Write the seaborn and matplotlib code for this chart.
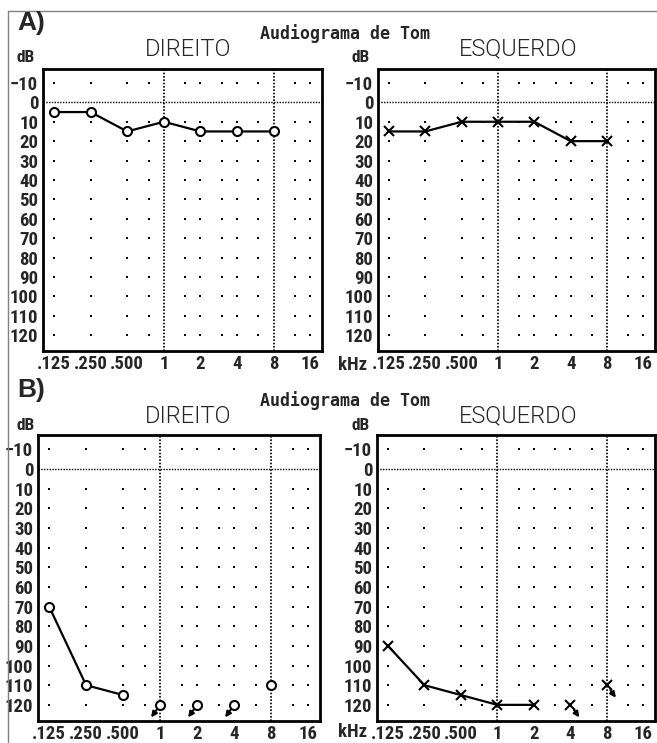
import matplotlib
matplotlib.use('Agg')
import numpy as np
import matplotlib.pyplot as plt
import seaborn as sns
from matplotlib.lines import Line2D
from matplotlib.ticker import NullLocator
from matplotlib.transforms import offset_copy

sns.set_theme(style='white')
plt.rcParams['font.family'] = ['Roboto Condensed', 'DejaVu Sans']

# eixo das frequencias (Hz)
tick_freqs = [125, 250, 500, 1000, 2000, 4000, 8000, 16000]
tick_labels = ['.125', '.250', '.500', '1', '2', '4', '8', '16']
grid_freqs = [125, 250, 500, 750, 1500, 2000, 3000, 4000, 6000, 12000, 16000]
levels = list(range(-10, 130, 10))

# A) direito (O) / esquerdo (X)
a_dir_freq = [125, 250, 500, 1000, 2000, 4000, 8000]
a_dir_db = [5, 5, 15, 10, 15, 15, 15]
a_esq_freq = [125, 250, 500, 1000, 2000, 4000, 8000]
a_esq_db = [15, 15, 10, 10, 10, 20, 20]

# B) direito
b_dir_freq = [125, 250, 500]
b_dir_db = [70, 110, 115]
b_dir_solo_freq = [8000]
b_dir_solo_db = [110]
b_dir_nr_freq = [1000, 2000, 4000]   # sem resposta
b_dir_nr_db = [120, 120, 120]

# B) esquerdo
b_esq_freq = [125, 250, 500, 1000, 2000]
b_esq_db = [90, 110, 115, 120, 120]
b_esq_nr_freq = [4000, 8000]          # sem resposta
b_esq_nr_db = [120, 110]

W, H = 657, 743
fig = plt.figure(figsize=(W / 100, H / 100), dpi=100)
fig.patch.set_facecolor('white')


def px_axes(x0, y0, x1, y1):
    return fig.add_axes([x0 / W, 1 - y1 / H, (x1 - x0) / W, (y1 - y0) / H])


def px_text(x, y, s, **kw):
    fig.text(x / W, 1 - y / H, s, ha='center', va='center', **kw)


def setup(ax):
    ax.set_xscale('log', base=2)
    ax.set_xlim(125 * 2 ** -0.3, 16000 * 2 ** 0.32)
    ax.set_ylim(128.2, -17.2)
    gx, gy = np.meshgrid(grid_freqs, [l for l in levels if l != 0])
    sns.scatterplot(x=gx.ravel(), y=gy.ravel(), ax=ax, marker='s', s=3.5,
                    color='black', linewidth=0, legend=False)
    ax.axhline(0, color='black', lw=1, ls=(0, (1, 1)))
    for f in (1000, 8000):
        ax.axvline(f, color='black', lw=1.2, ls=(0, (1, 1)))
    ax.set_xticks(tick_freqs, tick_labels)
    ax.xaxis.set_minor_locator(NullLocator())
    ax.set_yticks(levels)
    ax.tick_params(length=0, labelsize=13.5)
    ax.tick_params(axis='x', pad=3)
    ax.tick_params(axis='y', pad=3.5)
    for lab in ax.get_xticklabels() + ax.get_yticklabels():
        lab.set_fontweight('bold')
    for s in ax.spines.values():
        s.set_linewidth(2)
        s.set_color('black')


def ear_line(ax, freq, db, marker):
    sns.lineplot(x=freq, y=db, ax=ax, color='black', linewidth=1.6, marker=marker,
                 markersize=6.5, mfc='white', mec='black', mew=1.5,
                 sort=False, estimator=None)


def no_response(ax, freq, db, marker, side):
    sns.lineplot(x=freq, y=db, ax=ax, color='black', linewidth=0, marker=marker,
                 markersize=6.5, mfc='white', mec='black', mew=1.5,
                 sort=False, estimator=None)
    for f, d in zip(freq, db):
        head = offset_copy(ax.transData, fig=fig, x=6.5 * side, y=-9, units='points')
        tail = offset_copy(ax.transData, fig=fig, x=2.5 * side, y=-3.5, units='points')
        ax.annotate('', xy=(f, d), xycoords=head, xytext=(f, d), textcoords=tail,
                    arrowprops=dict(arrowstyle='-|>', color='black', lw=1.5,
                                    mutation_scale=8, shrinkA=0, shrinkB=0))


ax_a1 = px_axes(43, 69, 322, 351)
ax_a2 = px_axes(378, 69, 655, 351)
ax_b1 = px_axes(38, 435, 320, 721)
ax_b2 = px_axes(377, 435, 655, 721)
for ax in (ax_a1, ax_a2, ax_b1, ax_b2):
    setup(ax)

ear_line(ax_a1, a_dir_freq, a_dir_db, 'o')
ear_line(ax_a2, a_esq_freq, a_esq_db, 'x')

ear_line(ax_b1, b_dir_freq, b_dir_db, 'o')
ear_line(ax_b1, b_dir_solo_freq, b_dir_solo_db, 'o')
no_response(ax_b1, b_dir_nr_freq, b_dir_nr_db, 'o', -1)

ear_line(ax_b2, b_esq_freq, b_esq_db, 'x')
no_response(ax_b2, b_esq_nr_freq, b_esq_nr_db, 'x', 1)

# textos
for y0, letter in ((0, 'A)'), (367, 'B)')):
    px_text(31, y0 + 23, letter, fontsize=19, fontweight='bold',
            family=['Liberation Sans', 'DejaVu Sans'])
    px_text(345, y0 + 34, 'Audiograma de Tom', fontsize=12, fontweight='bold',
            family=['DejaVu Sans Mono'])
    px_text(188, y0 + 49, 'DIREITO', fontsize=17, fontweight=300,
            family=['Roboto', 'DejaVu Sans'])
    px_text(518, y0 + 49, 'ESQUERDO', fontsize=17, fontweight=300,
            family=['Roboto', 'DejaVu Sans'])
    px_text(26, y0 + 58, 'dB', fontsize=12.5, fontweight='bold')
    px_text(361, y0 + 58, 'dB', fontsize=12.5, fontweight='bold')
    px_text(353, y0 + 365, 'kHz', fontsize=13.5, fontweight='bold')

# moldura cinza da imagem
fig.add_artist(Line2D([8 / W, 1], [1 - 11 / H] * 2, color='gray', lw=1))
fig.add_artist(Line2D([8 / W] * 2, [0, 1 - 11 / H], color='gray', lw=1))

fig.savefig('out.png', dpi=100)
